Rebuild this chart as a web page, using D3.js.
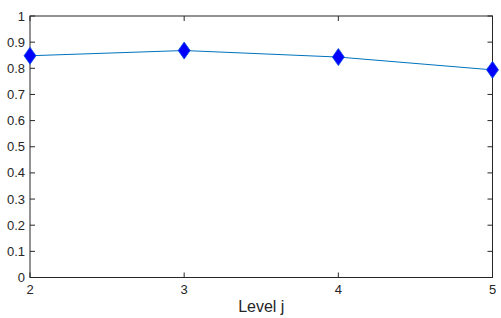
<!DOCTYPE html>
<html>
<head>
<meta charset="utf-8">
<script src="https://cdn.jsdelivr.net/npm/d3@7"></script>
<style>
  body { margin: 0; background: #fff; }
  text { font-family: "Liberation Sans", Arial, sans-serif; fill: #262626; }
</style>
</head>
<body>
<div id="chart"></div>
<script>
const levels = [2, 3, 4, 5];
const values = [0.848, 0.868, 0.843, 0.794];
const xTicks = [2, 3, 4, 5];
const yTicks = [0, 0.1, 0.2, 0.3, 0.4, 0.5, 0.6, 0.7, 0.8, 0.9, 1];

const width = 501, height = 318;
const margin = { left: 30, right: 8.5, top: 16, bottom: 40.5 };
const innerW = width - margin.left - margin.right;
const innerH = height - margin.top - margin.bottom;

const svg = d3.select('#chart').append('svg')
    .attr('width', width)
    .attr('height', height);

const g = svg.append('g')
    .attr('transform', `translate(${margin.left},${margin.top})`);

const x = d3.scaleLinear().domain([2, 5]).range([0, innerW]);
const y = d3.scaleLinear().domain([0, 1]).range([innerH, 0]);

const tickLen = 5;
const axisColor = '#262626';

// box
g.append('rect')
    .attr('x', 0).attr('y', 0)
    .attr('width', innerW).attr('height', innerH)
    .attr('fill', 'none')
    .attr('stroke', axisColor)
    .attr('stroke-width', 1);

// y ticks (inside, left and right)
yTicks.forEach(t => {
    g.append('line')
        .attr('x1', 0).attr('x2', tickLen)
        .attr('y1', y(t)).attr('y2', y(t))
        .attr('stroke', axisColor);
    g.append('line')
        .attr('x1', innerW - tickLen).attr('x2', innerW)
        .attr('y1', y(t)).attr('y2', y(t))
        .attr('stroke', axisColor);
    g.append('text')
        .attr('x', -5)
        .attr('y', y(t))
        .attr('dy', '0.35em')
        .attr('text-anchor', 'end')
        .style('font-size', '13px')
        .text(t);
});

// x ticks (inside, bottom and top)
xTicks.forEach(t => {
    g.append('line')
        .attr('x1', x(t)).attr('x2', x(t))
        .attr('y1', innerH).attr('y2', innerH - tickLen)
        .attr('stroke', axisColor);
    g.append('line')
        .attr('x1', x(t)).attr('x2', x(t))
        .attr('y1', 0).attr('y2', tickLen)
        .attr('stroke', axisColor);
    g.append('text')
        .attr('x', x(t))
        .attr('y', innerH + 16)
        .attr('text-anchor', 'middle')
        .style('font-size', '13px')
        .text(t);
});

// x label
g.append('text')
    .attr('x', innerW / 2)
    .attr('y', innerH + 34)
    .attr('text-anchor', 'middle')
    .style('font-size', '16px')
    .text('Level j');

// line
const pts = levels.map((l, i) => ({ l, v: values[i] }));
g.append('path')
    .datum(pts)
    .attr('fill', 'none')
    .attr('stroke', '#0072bd')
    .attr('stroke-width', 1)
    .attr('d', d3.line().x(d => x(d.l)).y(d => y(d.v)));

// diamond markers
const hw = 6, hh = 8.5;
g.selectAll('.marker')
    .data(pts)
    .enter()
    .append('path')
    .attr('class', 'marker')
    .attr('transform', d => `translate(${x(d.l)},${y(d.v)})`)
    .attr('d', `M0,${-hh}L${hw},0L0,${hh}L${-hw},0Z`)
    .attr('fill', '#0000ff')
    .attr('stroke', '#0a50e0')
    .attr('stroke-width', 0.8);
</script>
</body>
</html>
